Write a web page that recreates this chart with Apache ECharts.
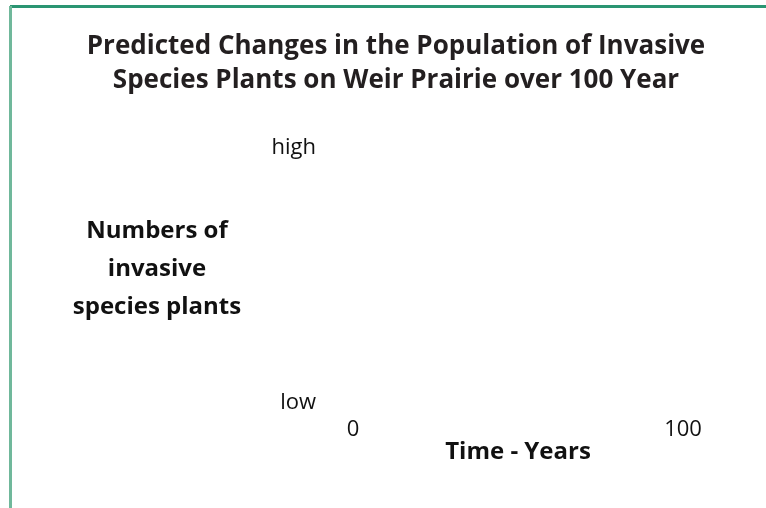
<!DOCTYPE html>
<html><head><meta charset="utf-8">
<script src="https://cdn.jsdelivr.net/npm/echarts@6/dist/echarts.min.js"></script>
<style>html,body{margin:0;padding:0;background:#fff}#c{width:766px;height:508px}</style>
</head><body><div id="c"></div>
<script>
var titleLines = ['Predicted Changes in the Population of Invasive', 'Species Plants on Weir Prairie over 100 Year'];
var yCategories = ['low', 'high'];
var xTicks = [0, 100];
var xName = 'Time - Years';
var yName = ['Numbers of', 'invasive', 'species plants'];
var seriesValues = [];

var chart = echarts.init(document.getElementById('c'));
chart.setOption({
  backgroundColor: '#fff',
  animation: false,
  title: {
    text: titleLines.join('\n'),
    left: 391, top: 25, textAlign: 'center',
    textStyle: {fontFamily: 'Open Sans', fontWeight: 'bold', fontSize: 26, lineHeight: 34, color: '#231f20'}
  },
  graphic: [
    {type: 'rect', shape: {x: 10, y: 5, width: 756, height: 3}, style: {fill: '#2a9572'}, silent: true},
    {type: 'rect', shape: {x: 9, y: 6, width: 3, height: 502}, style: {fill: '#70b89b'}, silent: true}
  ],
  grid: {left: 353, right: 83, top: 148, bottom: 105},
  xAxis: {
    type: 'value', min: xTicks[0], max: xTicks[1], interval: xTicks[1] - xTicks[0],
    axisLine: {show: false}, axisTick: {show: false}, splitLine: {show: false},
    axisLabel: {margin: 16, fontFamily: 'Open Sans', fontSize: 22, color: '#111'},
    name: xName, nameLocation: 'middle', nameGap: 49, nameMoveOverlap: false,
    nameTextStyle: {fontFamily: 'Open Sans', fontWeight: 'bold', fontSize: 24, color: '#111', verticalAlign: 'middle'}
  },
  yAxis: {
    type: 'category', data: yCategories, boundaryGap: false,
    axisLine: {show: false}, axisTick: {show: false}, splitLine: {show: false},
    axisLabel: {margin: 37, fontFamily: 'Open Sans', fontSize: 22, color: '#111'},
    name: yName.map(function (s) { return '{a|' + s + '}'; }).join('\n') + '\n{s|}',
    nameLocation: 'middle', nameRotate: 0, nameGap: 196, nameMoveOverlap: false,
    nameTextStyle: {
      align: 'center', verticalAlign: 'middle',
      rich: {
        a: {fontFamily: 'Open Sans', fontWeight: 'bold', fontSize: 24, lineHeight: 38, color: '#111', align: 'center'},
        s: {fontSize: 1, lineHeight: 12}
      }
    }
  },
  series: [{type: 'line', data: seriesValues}]
});
</script></body></html>
